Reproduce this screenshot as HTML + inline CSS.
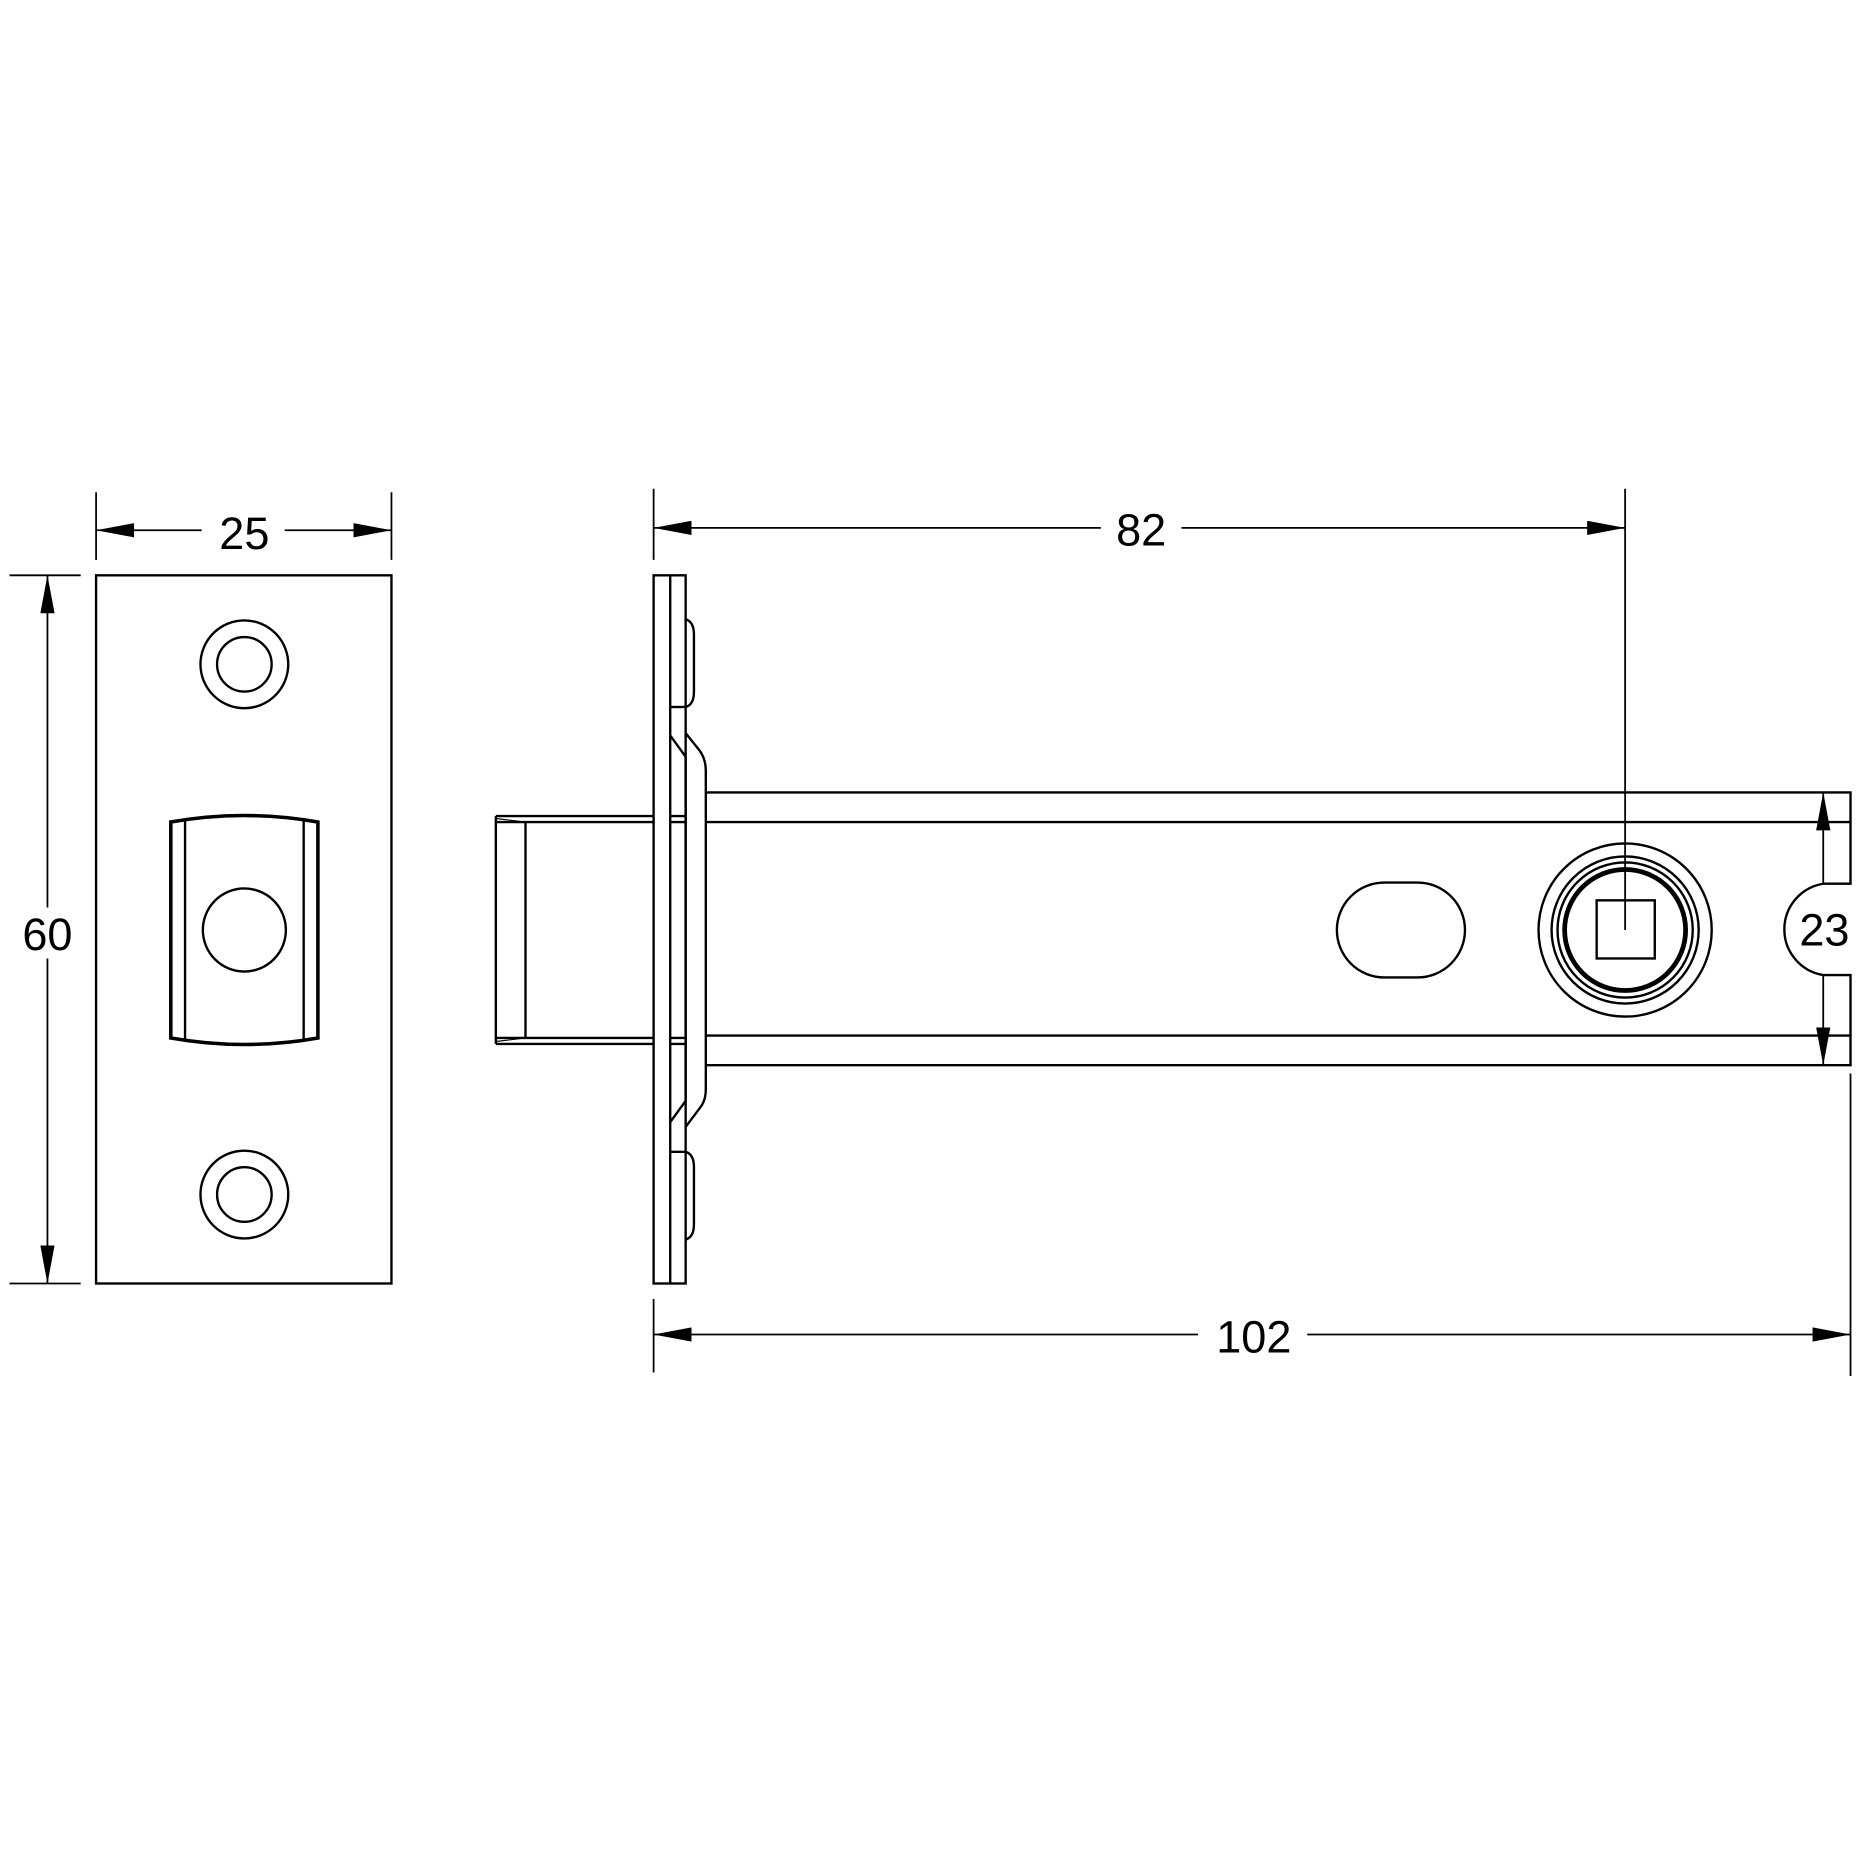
<!DOCTYPE html>
<html><head><style>html,body{margin:0;padding:0;background:#fff}svg{display:block}</style></head><body>
<svg width="1860" height="1860" viewBox="0 0 1568 1568" xmlns="http://www.w3.org/2000/svg">
<defs>
<marker id="a" markerWidth="32" markerHeight="12" refX="32" refY="6" orient="auto" markerUnits="userSpaceOnUse"><path d="M0,0 L32,6 L0,12 Z" fill="#000"/></marker>
<marker id="b" markerWidth="32" markerHeight="12" refX="0" refY="6" orient="auto" markerUnits="userSpaceOnUse"><path d="M32,0 L0,6 L32,12 Z" fill="#000"/></marker>
</defs>
<g fill="none" stroke="#000" stroke-width="2">
<!-- left plate -->
<rect x="81" y="485" width="249" height="597"/>
<circle cx="206" cy="560" r="37"/><circle cx="206" cy="560" r="23"/>
<circle cx="206" cy="1007" r="37"/><circle cx="206" cy="1007" r="23"/>
<path d="M144,693 Q206,682 268,693 L268,875 Q206,886 144,875 Z" stroke-width="3"/>
<line x1="156" y1="691" x2="156" y2="877"/><line x1="256" y1="691" x2="256" y2="877"/>
<circle cx="206" cy="784" r="35"/>
<!-- dims left -->
<line x1="81" y1="415" x2="81" y2="472" stroke-width="1.5"/><line x1="330" y1="415" x2="330" y2="472" stroke-width="1.5"/>
<line x1="81" y1="447" x2="170" y2="447" stroke-width="1.5" marker-start="url(#b)"/>
<line x1="240" y1="447" x2="330" y2="447" stroke-width="1.5" marker-end="url(#a)"/>
<line x1="8" y1="485" x2="68" y2="485" stroke-width="1.5"/><line x1="8" y1="1082" x2="68" y2="1082" stroke-width="1.5"/>
<line x1="40" y1="485" x2="40" y2="765" stroke-width="1.5" marker-start="url(#b)"/>
<line x1="40" y1="808" x2="40" y2="1082" stroke-width="1.5" marker-end="url(#a)"/>
<!-- faceplate side -->
<rect x="551" y="485" width="27" height="597"/>
<line x1="565" y1="485" x2="565" y2="1082"/>
<path d="M578,522 Q585,524 585,535 L585,583 Q585,594 578,596"/>
<path d="M578,971 Q585,973 585,984 L585,1032 Q585,1043 578,1045"/>
<line x1="565" y1="596" x2="578" y2="596"/><line x1="565" y1="971" x2="578" y2="971"/>
<path d="M565,620 L578,638 L578,928 L565,946"/>
<path d="M578,618 L590,633 Q595,640 595,650 L595,918 Q595,928 590,934 L578,950"/>
<!-- bolt -->
<path d="M418,688 L551,688 M418,693 L551,693 M418,875 L551,875 M418,880 L551,880 M418,688 L418,880 M443,693 L443,875 M565,688 L578,688 M565,693 L578,693 M565,875 L578,875 M565,880 L578,880"/>
<path d="M418,690 L443,693 M418,878 L443,875" stroke-width="1"/>
<!-- case -->
<path d="M595,668 L1560,668 L1560,745 L1537,745 A39,39 0 0 0 1537,822 L1560,822 L1560,898 L595,898"/>
<line x1="595" y1="693" x2="1560" y2="693"/><line x1="595" y1="873" x2="1560" y2="873"/>
<path d="M1167,744 L1195,744 A40,40 0 0 1 1195,824 L1167,824 A40,40 0 0 1 1167,744 Z"/>
<circle cx="1370" cy="784" r="73"/><circle cx="1370" cy="784" r="62"/><circle cx="1370" cy="784" r="57"/>
<circle cx="1370" cy="784" r="51" stroke-width="4"/>
<rect x="1346" y="759" width="49" height="49"/>
<!-- dims right -->
<g stroke-width="1.5">
<line x1="551" y1="412" x2="551" y2="472"/><line x1="1370" y1="412" x2="1370" y2="784"/>
<line x1="551" y1="445" x2="928" y2="445" marker-start="url(#b)"/>
<line x1="996" y1="445" x2="1370" y2="445" marker-end="url(#a)"/>
<line x1="551" y1="1095" x2="551" y2="1157"/><line x1="1560" y1="905" x2="1560" y2="1160"/>
<line x1="551" y1="1125" x2="1010" y2="1125" marker-start="url(#b)"/>
<line x1="1102" y1="1125" x2="1560" y2="1125" marker-end="url(#a)"/>
<line x1="1537" y1="668" x2="1537" y2="745" marker-start="url(#b)"/>
<line x1="1537" y1="822" x2="1537" y2="898" marker-end="url(#a)"/>
</g>
</g>
<g font-family="Liberation Sans, sans-serif" font-size="38" text-anchor="middle" fill="#000">
<text x="206" y="463">25</text>
<text x="40" y="801">60</text>
<text x="962" y="460">82</text>
<text x="1057" y="1140">102</text>
<text x="1538" y="797">23</text>
</g>
</svg>
</body></html>
